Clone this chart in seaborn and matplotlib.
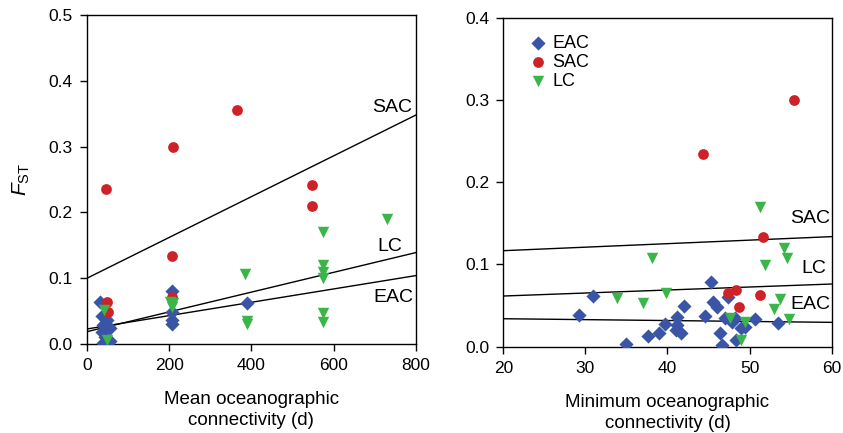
import numpy as np
import pandas as pd
import matplotlib
matplotlib.use("Agg")
import matplotlib.pyplot as plt
import seaborn as sns

# ---------------- data ----------------
# Left panel: mean oceanographic connectivity (d) vs FST
mean_eac_x = [32, 36.5, 48.6, 40.3, 36.5, 56.6, 44.5, 40.3, 56.6, 206, 206, 208, 208, 389]
mean_eac_y = [0.064, 0.042, 0.037, 0.029, 0.019, 0.024, 0.011, 0.001, 0.004, 0.080, 0.049, 0.037, 0.031, 0.062]
mean_sac_x = [47, 48.6, 52.5, 207, 206, 210, 364, 547, 547]
mean_sac_y = [0.235, 0.064, 0.049, 0.071, 0.134, 0.300, 0.356, 0.241, 0.209]
mean_lc_x = [42, 48.6, 203, 210, 206, 385, 389, 389, 573, 573, 573, 573, 573, 573, 729]
mean_lc_y = [0.052, 0.006, 0.064, 0.062, 0.056, 0.107, 0.035, 0.031, 0.170, 0.120, 0.110, 0.101, 0.047, 0.034, 0.190]

# Right panel: minimum oceanographic connectivity (d) vs FST
min_eac_x = [29.25, 30.9, 35.0, 37.6, 39.0, 39.7, 41.2, 41.2, 41.0, 41.7, 42.0, 44.6, 45.3, 45.6,
             46.0, 46.4, 46.7, 47.0, 47.4, 47.8, 48.2, 49.0, 49.4, 48.4, 50.7, 53.5]
min_eac_y = [0.0386, 0.062, 0.0033, 0.013, 0.017, 0.0276, 0.0365, 0.0264, 0.0203, 0.0163, 0.0499,
             0.0373, 0.079, 0.0547, 0.0487, 0.0163, 0.002, 0.0345, 0.0608, 0.0304, 0.0345, 0.0224,
             0.024, 0.008, 0.0333, 0.029]
min_sac_x = [55.4, 44.3, 51.6, 51.3, 48.3, 47.4, 48.7]
min_sac_y = [0.300, 0.2347, 0.1334, 0.0628, 0.0689, 0.0649, 0.0486]
min_lc_x = [51.3, 54.2, 54.5, 51.9, 38.1, 33.8, 37.0, 39.8, 53.7, 53.0, 54.8, 47.6, 49.4, 49.0]
min_lc_y = [0.170, 0.1196, 0.108, 0.0993, 0.108, 0.0589, 0.0528, 0.065, 0.0577, 0.0455, 0.0333,
            0.0345, 0.0304, 0.0082]

groups = ["EAC", "SAC", "LC"]
# fitted lines: (value at left x-limit, value at right x-limit)
mean_fit_left = [0.0228, 0.0998, 0.0187]
mean_fit_right = [0.104, 0.348, 0.139]
min_fit_left = [0.034, 0.1167, 0.0616]
min_fit_right = [0.0296, 0.1338, 0.0762]
# line labels positions
mean_lab_x = [744, 743, 736]
mean_lab_y = [0.0707, 0.359, 0.148]
min_lab_x = [57.4, 57.4, 57.8]
min_lab_y = [0.0511, 0.1557, 0.0949]

mean_xticks = [0, 200, 400, 600, 800]
mean_yticks = [0.0, 0.1, 0.2, 0.3, 0.4, 0.5]
min_xticks = [20, 30, 40, 50, 60]
min_yticks = [0.0, 0.1, 0.2, 0.3, 0.4]

# ---------------- style ----------------
sns.set_style("ticks")
plt.rcParams["font.family"] = ["Liberation Sans", "DejaVu Sans"]
plt.rcParams["mathtext.fontset"] = "custom"
plt.rcParams["mathtext.rm"] = "Liberation Sans"
plt.rcParams["mathtext.it"] = "Liberation Sans:italic"
plt.rcParams["text.color"] = "black"
plt.rcParams["axes.labelcolor"] = "black"
plt.rcParams["xtick.color"] = "black"
plt.rcParams["ytick.color"] = "black"

colors = {"EAC": "#3a55a6", "SAC": "#cf2128", "LC": "#3bb54a"}
markers = {"EAC": "D", "SAC": "o", "LC": "v"}
sizes = {"EAC": 52, "SAC": 60, "LC": 68}


def make_df(xs, ys):
    rows = []
    for g, x, y in zip(groups, xs, ys):
        rows.append(pd.DataFrame({"x": x, "y": y, "group": g}))
    return pd.concat(rows, ignore_index=True)


df_mean = make_df([mean_eac_x, mean_sac_x, mean_lc_x], [mean_eac_y, mean_sac_y, mean_lc_y])
df_min = make_df([min_eac_x, min_sac_x, min_lc_x], [min_eac_y, min_sac_y, min_lc_y])

fig = plt.figure(figsize=(8.43, 4.33), dpi=100)
ax1 = fig.add_axes([0.1029, 0.2055, 0.3906, 0.7600])
ax2 = fig.add_axes([0.5970, 0.1993, 0.3896, 0.7600])


def draw(ax, df, xlim, ylim, fl, fr, lx, ly, xticks, yticks, legend):
    for g in groups:
        sub = df[df["group"] == g]
        sns.scatterplot(data=sub, x="x", y="y", ax=ax, color=colors[g], marker=markers[g],
                        s=sizes[g], linewidth=0, label=g if legend else None, zorder=3)
    for i, g in enumerate(groups):
        ax.plot(xlim, [fl[i], fr[i]], color="black", lw=1.0, zorder=2)
        ax.text(lx[i], ly[i], g, ha="center", va="center", fontsize=14, color="black")
    ax.set_xlim(xlim)
    ax.set_ylim(ylim)
    ax.set_xticks(xticks)
    ax.set_yticks(yticks)
    ax.set_yticklabels([f"{v:.1f}" for v in yticks])
    ax.tick_params(axis="both", direction="out", length=5, width=1, labelsize=12.5, pad=5,
                   colors="black", labelcolor="black", top=False, right=False)
    for sp in ax.spines.values():
        sp.set_visible(True)
        sp.set_linewidth(1.0)
        sp.set_color("black")


draw(ax1, df_mean, [0, 800], [0, 0.5], mean_fit_left, mean_fit_right, mean_lab_x, mean_lab_y,
     mean_xticks, mean_yticks, False)
draw(ax2, df_min, [20, 60], [0, 0.4], min_fit_left, min_fit_right, min_lab_x, min_lab_y,
     min_xticks, min_yticks, True)

ax1.set_xlabel("Mean oceanographic\nconnectivity (d)", fontsize=13.5, labelpad=13, linespacing=1.3,
               color="black")
ax2.set_xlabel("Minimum oceanographic\nconnectivity (d)", fontsize=13.5, labelpad=13, linespacing=1.3,
               color="black")
ax1.set_ylabel(r"$F_{\mathrm{ST}}$", fontsize=15, labelpad=12, color="black")
ax2.set_ylabel("")

leg = ax2.legend(loc="upper left", bbox_to_anchor=(0.04, 0.98), frameon=False, fontsize=13,
                 handletextpad=0.2, labelspacing=0.1, borderaxespad=0.2, handlelength=1.2)
for t in leg.get_texts():
    t.set_color("black")

fig.savefig("out.png", dpi=100)
